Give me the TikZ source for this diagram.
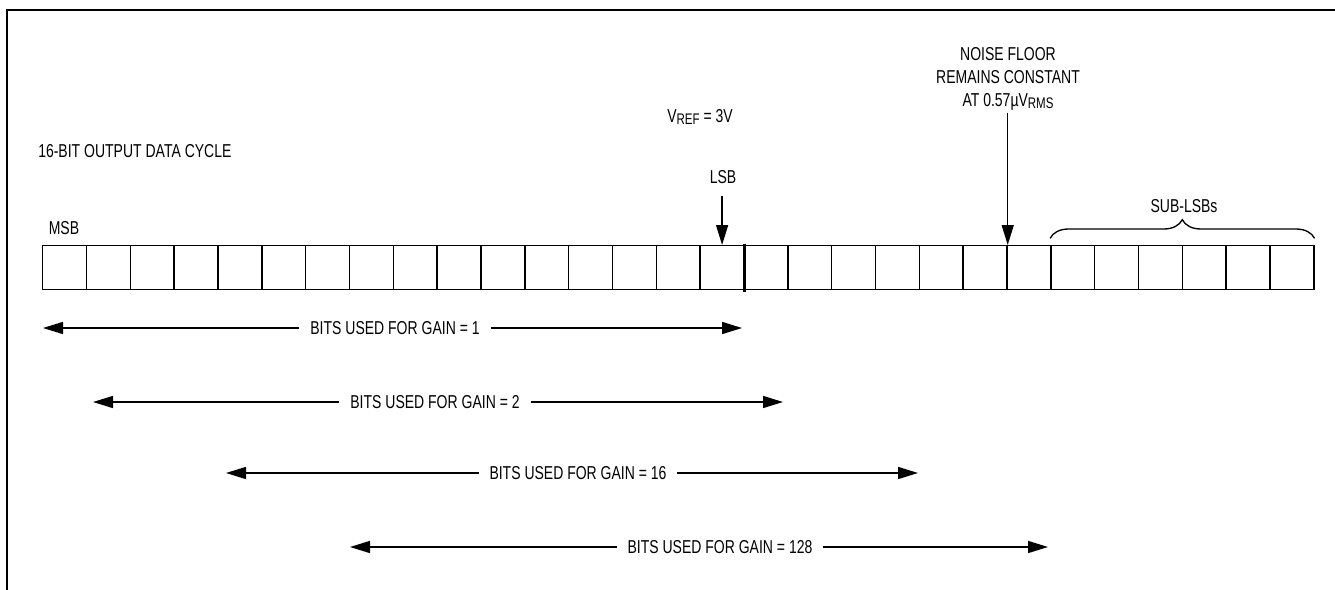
\documentclass[tikz,border=0pt]{standalone}
\usepackage{fontspec}
\setmainfont{Liberation Sans}[FakeStretch=0.75]
\usetikzlibrary{arrows.meta,decorations.pathreplacing}
\begin{document}
\begin{tikzpicture}[x=0.75pt,y=-0.75pt,
  lbl/.style={font=\fontsize{14}{17.3}\selectfont, inner sep=0pt},
  glbl/.style={lbl, inner xsep=8pt},
  cell/.style={draw, line width=1.1pt, minimum width=32.87pt, minimum height=33pt, inner sep=0pt, anchor=north west},
  arr/.style={line width=1.1pt, -{Triangle[length=15pt,width=9pt]}},
  frame/.style={line width=1.6pt}]
\useasboundingbox (0,0) rectangle (1335,589);
% frame
\draw[frame] (1345,10) -- (7,10) -- (7,600);
% cells
\foreach \i in {1,...,29}
  \node[cell] (c\i) at ({42+(\i-1)*43.83},245) {};
% bold LSB boundary
\draw[line width=2.5pt] ([yshift=1pt]c16.north east) -- ([yshift=-1.5pt]c16.south east);
% labels
\node[lbl, anchor=west] (title) at (38,151) {16-BIT OUTPUT DATA CYCLE};
\node[lbl] (msb) at (64,228) {MSB};
\node[lbl, anchor=base west] (vref) at (667,122) {V\raisebox{-2pt}{\fontsize{11.5}{13}\selectfont REF} = 3V};
\node[lbl] (lsb) at (723,177) {LSB};
\node[lbl, align=center, anchor=north] (noise) at (1008,47) {NOISE FLOOR\\REMAINS CONSTANT\\AT 0.57µV\raisebox{-1.5pt}{\fontsize{11.5}{13}\selectfont RMS}};
\node[lbl] (sub) at (1184,206) {SUB-LSBs};
% pointer arrows
\draw[arr, shorten <=9pt] (lsb.south -| c16.north) -- (c16.north);
\draw[arr, shorten <=1.5pt] (noise.south -| c22.north east) -- (c22.north east);
% brace
\draw[line width=1pt, decorate, decoration={brace, amplitude=14pt, raise=5pt}] (c24.north west) -- (c29.north east);
% gain ranges
\coordinate (g1l) at (43,328);  \coordinate (g1r) at (742,328);
\coordinate (g2l) at (93,402);  \coordinate (g2r) at (783,402);
\coordinate (g3l) at (226,473); \coordinate (g3r) at (918,473);
\coordinate (g4l) at (350,547); \coordinate (g4r) at (1048,547);
\node[glbl] (g1) at (395,328) {BITS USED FOR GAIN = 1};
\node[glbl] (g2) at (435,402) {BITS USED FOR GAIN = 2};
\node[glbl] (g3) at (578,473) {BITS USED FOR GAIN = 16};
\node[glbl] (g4) at (720,547) {BITS USED FOR GAIN = 128};
\draw[arr] (g1.west) -- (g1l); \draw[arr] (g1.east) -- (g1r);
\draw[arr] (g2.west) -- (g2l); \draw[arr] (g2.east) -- (g2r);
\draw[arr] (g3.west) -- (g3l); \draw[arr] (g3.east) -- (g3r);
\draw[arr] (g4.west) -- (g4l); \draw[arr] (g4.east) -- (g4r);
\end{tikzpicture}
\end{document}
